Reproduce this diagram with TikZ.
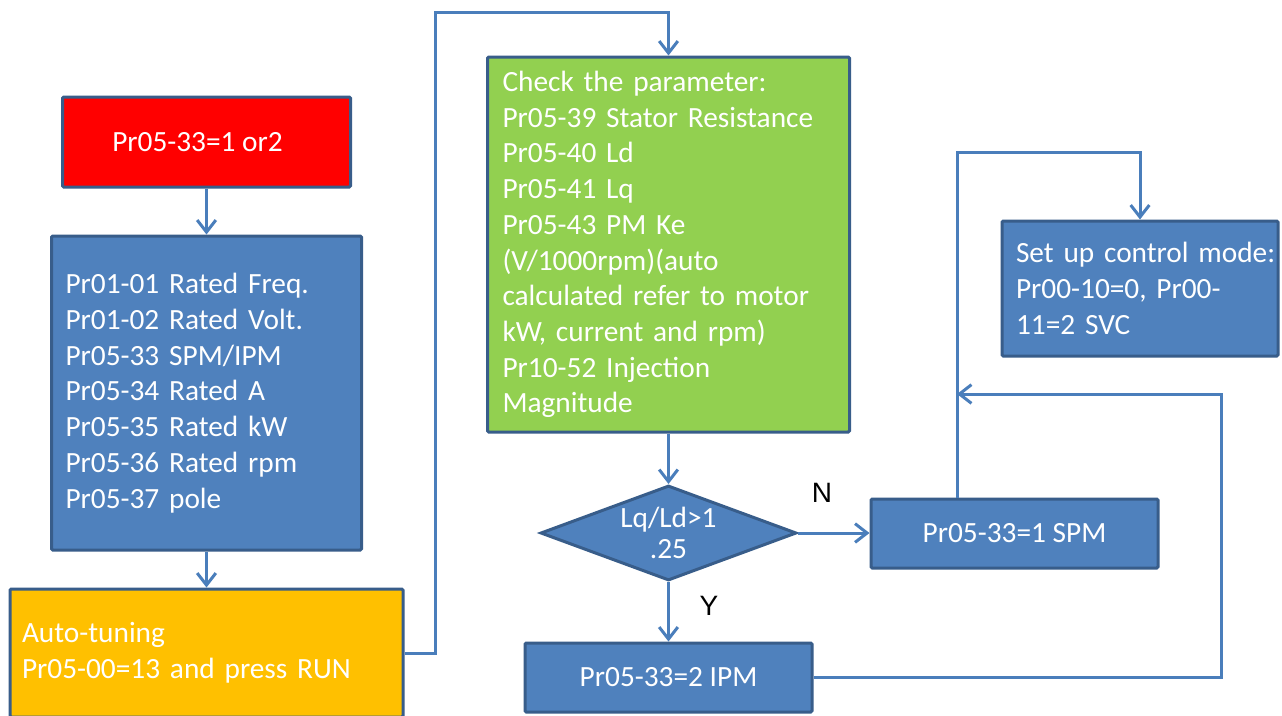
\documentclass[tikz,border=0pt]{standalone}
\usepackage{fontspec}
\setmainfont{Carlito}
\newfontfamily\yesnofont{Liberation Sans}
\usetikzlibrary{arrows.meta,shapes.geometric}

\begin{document}
\begin{tikzpicture}[x=0.75pt,y=-0.75pt,>={Straight Barb[length=9pt,width=14pt]}]

% Colors
\definecolor{boxblue}{RGB}{79,129,189}
\definecolor{boxedge}{RGB}{56,93,138}
\definecolor{flowline}{RGB}{74,126,187}
\definecolor{startred}{RGB}{255,0,0}
\definecolor{checkgreen}{RGB}{146,208,80}
\definecolor{tuneorange}{RGB}{255,192,0}

% Styles
\tikzset{
  stepbox/.style={
    rectangle,
    draw=boxedge,
    fill=boxblue,
    line width=2.25pt,
    rounded corners=1pt,
    text=white,
    inner sep=0pt,
    font=\fontsize{22}{26.8}\selectfont
  },
  listbox/.style={
    stepbox,
    align=left,
    inner xsep=10.5pt
  },
  testbox/.style={
    diamond,
    aspect=2.7,
    draw=boxedge,
    fill=boxblue,
    line width=2.25pt,
    text=white,
    inner sep=0pt,
    align=center,
    minimum width=192pt,
    minimum height=71.25pt,
    font=\fontsize{22}{23.25}\selectfont
  },
  yesno/.style={
    text=black,
    inner sep=0pt,
    font=\yesnofont\fontsize{21}{21}\selectfont
  },
  flow/.style={
    ->,
    line width=2.25pt,
    draw=flowline
  }
}

% Page
\path[use as bounding box, fill=white] (0,0) rectangle (1282,715);

% Coordinates first
\coordinate (startc) at (206.5,142);
\coordinate (paramc) at (206.5,393);
\coordinate (tunec)  at (206.5,653);

\coordinate (checkc) at (668.5,244.5);
\coordinate (ratioc) at (668.5,533);
\coordinate (ipmc)   at (668.5,677.5);

\coordinate (spmc)   at (1014.5,533.5);
\coordinate (modec)  at (1140,288.5);

\coordinate (upL)    at (435,12);
\coordinate (loopT)  at (957,152);
\coordinate (loopR)  at (1221,394);
\coordinate (loopin) at (957,394);

% ----------------------------
% Boxes
% ----------------------------
\node[stepbox, fill=startred, minimum width=216pt, minimum height=67.5pt] (start) at (startc) {Pr05-33=1 or2\kern13.5pt};

\node[listbox, minimum width=232.5pt, minimum height=235.5pt, text width=211.5pt] (param) at (paramc) {%
  Pr01-01 Rated Freq.\\
  Pr01-02 Rated Volt.\\
  Pr05-33 SPM/IPM\\
  Pr05-34 Rated A\\
  Pr05-35 Rated kW\\
  Pr05-36 Rated rpm\\
  Pr05-37 pole};

\node[listbox, fill=tuneorange, inner xsep=9pt, minimum width=294.75pt, minimum height=96pt, text width=276.75pt] (tune) at (tunec) {%
  Auto-tuning\\
  Pr05-00=13 and press RUN};

\node[listbox, fill=checkgreen, inner xsep=11.25pt, minimum width=271.5pt, minimum height=281.25pt, text width=249pt] (check) at (checkc) {%
  Check the parameter:\\
  Pr05-39 Stator Resistance\\
  Pr05-40 Ld\\
  Pr05-41 Lq\\
  Pr05-43 PM Ke\\
  (V/1000rpm)(auto\\
  calculated refer to motor\\
  kW, current and rpm)\\
  Pr10-52 Injection\\
  Magnitude};

\node[testbox] (ratio) at (ratioc) {Lq/Ld>1\\.25};

\node[stepbox, minimum width=215.25pt, minimum height=51.75pt] (spm) at (spmc) {Pr05-33=1 SPM};
\node[stepbox, minimum width=215.25pt, minimum height=51.75pt] (ipm) at (ipmc) {Pr05-33=2 IPM};

\node[listbox, minimum width=207pt, minimum height=101.25pt, text width=186pt] (mode) at (modec) {%
  \mbox{Set up control mode:}\\
  Pr00-10=0, Pr00-\\
  11=2 SVC};

% Branch labels
\node[yesno] (nolabel)  at (822,493) {N};
\node[yesno] (yeslabel) at (709,606) {Y};

% ----------------------------
% Arrows
% ----------------------------
\draw[flow] (start) -- (param);
\draw[flow] (param) -- (tune);
\draw[flow] (tune.east) -| (upL) -| (check.north);
\draw[flow] (check) -- (ratio);
\draw[flow] (ratio.east) -- (ratio.east -| spm.west);
\draw[flow] (ratio) -- (ipm);
\draw[flow] (ipm.east) -| (loopR) -- (loopin);
\draw[flow] (spm.north -| loopT) -- (loopT) -| (mode.north);

\end{tikzpicture}
\end{document}
